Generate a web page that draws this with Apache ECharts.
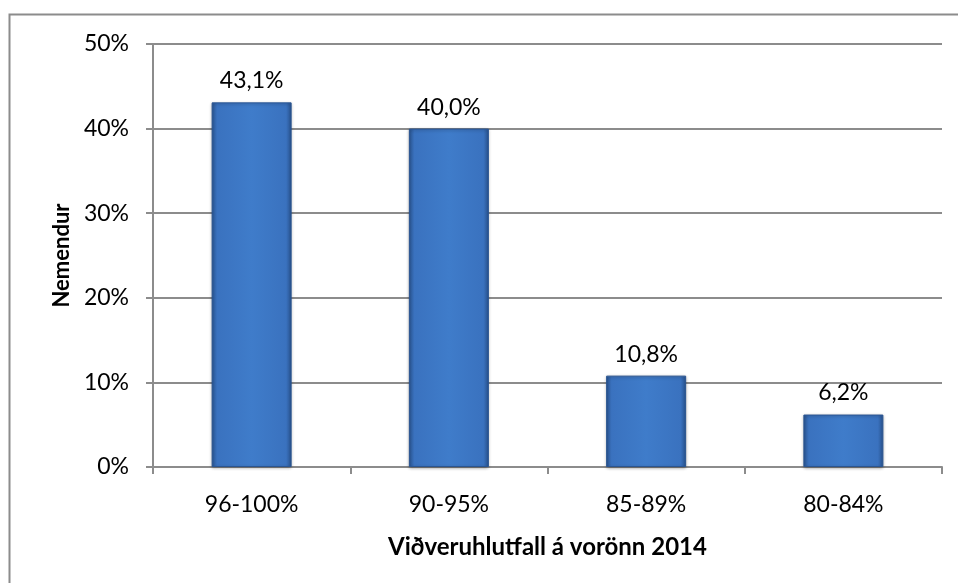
<!DOCTYPE html>
<html>
<head>
<meta charset="utf-8">
<script src="https://cdn.jsdelivr.net/npm/echarts@6/dist/echarts.min.js"></script>
<style>
html, body { margin: 0; padding: 0; background: #fff; }
#main { width: 958px; height: 583px; }
</style>
</head>
<body>
<div id="main"></div>
<script>
// flokkar og gildi
var categories = ['96-100%', '90-95%', '85-89%', '80-84%'];
var values = [43.1, 40.0, 10.8, 6.2];
var yTicks = [0, 10, 20, 30, 40, 50];

var font = 'Lato, "Open Sans", sans-serif';
var myChart = echarts.init(document.getElementById('main'));

var barColor = new echarts.graphic.LinearGradient(0, 0, 1, 0, [
    { offset: 0, color: '#2a5592' },
    { offset: 0.07, color: '#3a72bf' },
    { offset: 0.5, color: '#3f7cca' },
    { offset: 0.93, color: '#3a72bf' },
    { offset: 1, color: '#2a5592' }
]);

var option = {
    backgroundColor: '#fff',
    animation: false,
    graphic: [{
        type: 'rect',
        shape: { x: 9.5, y: 14.5, width: 980, height: 600 },
        style: { fill: 'none', stroke: '#8c8c8c', lineWidth: 2 }
    }],
    grid: { left: 153, right: 16, top: 44, bottom: 116 },
    xAxis: {
        type: 'category',
        data: categories,
        name: 'Viðveruhlutfall á vorönn 2014',
        nameLocation: 'middle',
        nameGap: 68,
        nameTextStyle: { fontFamily: font, fontSize: 24, fontWeight: 'bold', color: '#000' },
        axisLine: { lineStyle: { color: '#8c8c8c', width: 2 } },
        axisTick: { show: true, alignWithLabel: false, length: 7, lineStyle: { color: '#8c8c8c', width: 2 } },
        axisLabel: { fontFamily: font, fontSize: 23, color: '#000', margin: 26 }
    },
    yAxis: {
        type: 'value',
        min: yTicks[0],
        max: yTicks[yTicks.length - 1],
        interval: 10,
        name: 'Nemendur',
        nameLocation: 'middle',
        nameGap: 66,
        nameTextStyle: { fontFamily: font, fontSize: 22, fontWeight: 'bold', color: '#000' },
        axisLine: { show: true, lineStyle: { color: '#8c8c8c', width: 2 } },
        axisTick: { show: true, length: 7, lineStyle: { color: '#8c8c8c', width: 2 } },
        splitLine: { lineStyle: { color: '#8c8c8c', width: 2 } },
        axisLabel: {
            fontFamily: font, fontSize: 23, color: '#000', margin: 24,
            formatter: function (v) { return v + '%'; }
        }
    },
    series: [{
        type: 'bar',
        data: values,
        barWidth: 80,
        itemStyle: {
            color: barColor,
            borderColor: '#2a5592',
            borderWidth: 1,
            shadowColor: 'rgba(0,0,0,0.3)',
            shadowBlur: 3,
            shadowOffsetY: 1
        },
        label: {
            show: true,
            position: 'top',
            distance: 10,
            fontFamily: font,
            fontSize: 23,
            color: '#000',
            formatter: function (p) { return p.value.toFixed(1).replace('.', ',') + '%'; }
        }
    }]
};
myChart.setOption(option);
</script>
</body>
</html>
